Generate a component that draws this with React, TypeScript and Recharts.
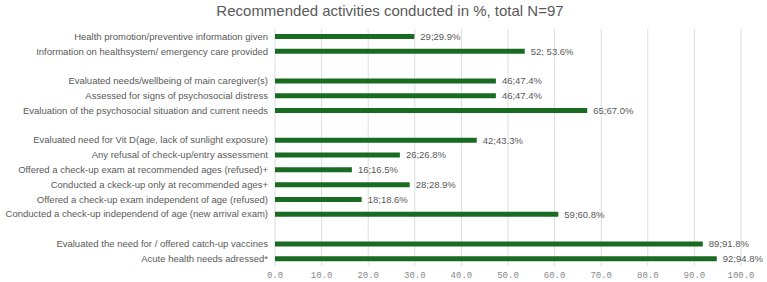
import React from "react";
import { BarChart, Bar, XAxis, YAxis, CartesianGrid, LabelList } from "recharts";

// Activity rows; empty strings are spacer rows between groups
const categories: string[] = [
  "Health promotion/preventive information given",
  "Information on healthsystem/ emergency care provided",
  "",
  "Evaluated needs/wellbeing of main caregiver(s)",
  "Assessed for signs of psychosocial distress",
  "Evaluation of the psychosocial situation and current needs",
  "",
  "Evaluated need for Vit D(age, lack of sunlight exposure)",
  "Any refusal of check-up/entry assessment",
  "Offered a check-up exam at recommended ages (refused)+",
  "Conducted a ckeck-up only at recommended ages+",
  "Offered a check-up exam independent of age (refused)",
  "Conducted a check-up independend of age (new arrival exam)",
  "",
  "Evaluated the need for / offered catch-up vaccines",
  "Acute health needs adressed*",
];

// Number of children per activity
const counts: (number | null)[] = [29, 52, null, 46, 46, 65, null, 42, 26, 16, 28, 18, 59, null, 89, 92];

// Share of the total N=97, in %
const percents: (number | null)[] = [29.9, 53.6, null, 47.4, 47.4, 67.0, null, 43.3, 26.8, 16.5, 28.9, 18.6, 60.8, null, 91.8, 94.8];

// Separator between count and share in each value label
const separators: string[] = [";", "; ", "", ";", ";", ";", "", ";", ";", ";", ";", ";", ";", "", ";", ";"];

const xTicks: number[] = [0, 10, 20, 30, 40, 50, 60, 70, 80, 90, 100];

const data = categories.map((name, i) => ({
  id: i,
  name,
  pct: percents[i],
  text:
    counts[i] != null && percents[i] != null
      ? `${counts[i]}${separators[i]}${(percents[i] as number).toFixed(1)}%`
      : "",
}));

const GREEN = "#1a6b22";
const TEXT = "#595959";
const SANS = "'Liberation Sans', Arial, sans-serif";

const ValueLabel = (props: any) => {
  const { x, y, width, height, value } = props;
  if (!value) return null;
  return (
    <text x={x + width + 6} y={y + height / 2} dy="0.35em" fill={TEXT} fontSize={9.5} fontFamily={SANS}>
      {value}
    </text>
  );
};

// Single-line category label, right-aligned against the plot
const CategoryTick = (props: any) => {
  const { x, y, payload } = props;
  const label = categories[payload.value];
  if (!label) return null;
  return (
    <text x={x} y={y} dy="0.35em" textAnchor="end" fill={TEXT} fontSize={9.5} fontFamily={SANS}>
      {label}
    </text>
  );
};

export default function App() {
  return (
    <div style={{ position: "absolute", left: 0, top: 0, width: 767, height: 282, background: "#fff" }}>
      <div
        style={{
          position: "absolute",
          left: 0,
          top: 2,
          width: 780,
          textAlign: "center",
          fontFamily: SANS,
          fontSize: 15,
          color: TEXT,
          lineHeight: "18px",
        }}
      >
        Recommended activities conducted in %, total N=97
      </div>
      <BarChart
        width={767}
        height={282}
        data={data}
        layout="vertical"
        margin={{ top: 29, right: 26, bottom: 0, left: 0 }}
        barCategoryGap={0}
      >
        <CartesianGrid horizontal={false} stroke="#dcdcdc" />
        <XAxis
          type="number"
          domain={[0, 100]}
          ticks={xTicks}
          interval={0}
          height={16}
          axisLine={false}
          tickLine={false}
          tickSize={0}
          tickMargin={6}
          tickFormatter={(v: number) => v.toFixed(1)}
          tick={{ fill: "#8a8a8a", fontSize: 9, fontFamily: "'Liberation Mono', monospace" }}
        />
        <YAxis
          type="category"
          dataKey="id"
          width={275}
          interval={0}
          axisLine={false}
          tickLine={false}
          tickSize={0}
          tickMargin={7}
          tick={<CategoryTick />}
        />
        <Bar dataKey="pct" fill={GREEN} barSize={5} isAnimationActive={false}>
          <LabelList dataKey="text" content={<ValueLabel />} />
        </Bar>
      </BarChart>
    </div>
  );
}
